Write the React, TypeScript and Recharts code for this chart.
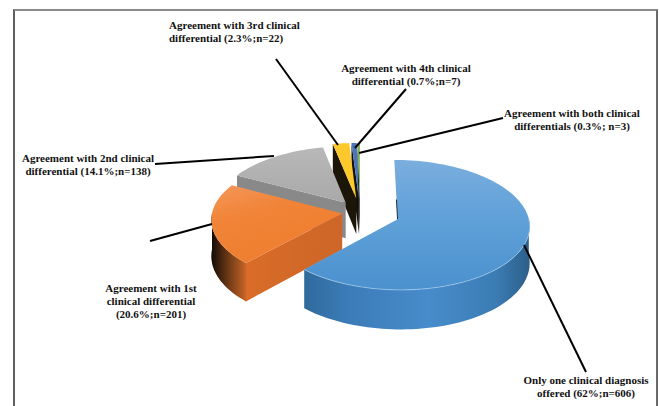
import { Pie, PieChart } from 'recharts'

// counts behind each slice, going counter-clockwise from twelve o'clock
const categories = [
  'Agreement with both clinical differentials',
  'Agreement with 4th clinical differential',
  'Agreement with 3rd clinical differential',
  'Agreement with 2nd clinical differential',
  'Agreement with 1st clinical differential',
  'Only one clinical diagnosis offered',
]
const counts = [3, 7, 22, 138, 201, 606]

const labelLines = [
  ['Agreement with both clinical', 'differentials (0.3%; n=3)'],
  ['Agreement with 4th clinical', 'differential (0.7%;n=7)'],
  ['Agreement with 3rd clinical', 'differential (2.3%;n=22)'],
  ['Agreement with 2nd clinical', 'differential (14.1%;n=138)'],
  ['Agreement with 1st', 'clinical differential', '(20.6%;n=201)'],
  ['Only one clinical diagnosis', 'offered (62%;n=606)'],
]

// where each caption sits and where its leader runs
const labelAnchors = [
  { x: 572, y: 117, anchor: 'middle' },
  { x: 406, y: 72, anchor: 'middle' },
  { x: 169, y: 29, anchor: 'start' },
  { x: 88, y: 162, anchor: 'middle' },
  { x: 151, y: 292, anchor: 'middle' },
  { x: 586, y: 384, anchor: 'middle' },
]
const leaders = [
  [503, 118, 359, 153],
  [406, 89, 355, 148],
  [276, 59, 338, 145],
  [155, 164, 274, 156],
  [150, 241, 212, 224],
  [586, 372, 524, 245],
]

const explode = [28, 28, 28, 24, 18, 40]
const topFills = ['#70ad47', '#4a74bc', '#fbc92b', 'url(#grayTop)', 'url(#orangeTop)', 'url(#blueTop)']
const cutFills = ['#14100a', '#14100a', '#1c1608', '#898989', 'url(#orangeCut)', '#2f6a9f']
const rimFills = ['#14100a', '#14100a', '#1c1608', '#898989', 'url(#orangeRim)', 'url(#blueRim)']

const WIDTH = 659
const HEIGHT = 406
const CX = 360
const CY = 212
const RADIUS = 130
const TILT = 0.49
const PERSPECTIVE = 0.088
const DEPTH = 36

const rad = (deg: number) => (deg * Math.PI) / 180

// flat pie coordinates -> screen, nearer points come out slightly bigger
function project(wx: number, wy: number, down = 0): [number, number] {
  const s = 1 + (PERSPECTIVE * wy) / RADIUS
  return [CX + wx * s, CY + wy * TILT * s + down * DEPTH * s]
}

function toPath(points: [number, number][]) {
  return 'M' + points.map(([x, y]) => `${x.toFixed(1)},${y.toFixed(1)}`).join('L') + 'Z'
}

function arcAngles(from: number, to: number) {
  const steps = Math.max(2, Math.ceil((to - from) / 2))
  const out: number[] = []
  for (let i = 0; i <= steps; i++) out.push(from + ((to - from) * i) / steps)
  return out
}

function Slice3D(props: any) {
  const { startAngle, endAngle, index } = props
  const mid = rad((startAngle + endAngle) / 2)
  const ox = explode[index] * Math.cos(mid)
  const oy = -explode[index] * Math.sin(mid)
  const rim = (deg: number, down = 0) =>
    project(ox + RADIUS * Math.cos(rad(deg)), oy - RADIUS * Math.sin(rad(deg)), down)

  const apex = project(ox, oy)
  const apexLow = project(ox, oy, 1)
  const top = toPath([apex, ...arcAngles(startAngle, endAngle).map((a) => rim(a))])

  // only the part of the outer wall that faces the viewer
  const wallFrom = Math.max(startAngle, 180)
  const wallTo = Math.min(endAngle, 360)
  const hasWall = wallTo > wallFrom
  const wallAngles = hasWall ? arcAngles(wallFrom, wallTo) : []
  const wall = hasWall
    ? toPath([...wallAngles.map((a) => rim(a)), ...[...wallAngles].reverse().map((a) => rim(a, 1))])
    : ''

  const cosEnd = Math.cos(rad(endAngle))
  const showCut = cosEnd < -0.01
  const cut = toPath([apex, rim(endAngle), rim(endAngle, 1), apexLow])
  const seamTop = rim(endAngle)

  return (
    <g>
      {showCut && <path d={cut} fill={cutFills[index]} />}
      {hasWall && <path d={wall} fill={rimFills[index]} />}
      <path d={top} fill={topFills[index]} />
      {hasWall && index === 5 && (
        <polyline
          points={wallAngles.map((a) => rim(a).join(',')).join(' ')}
          fill="none"
          stroke="#a9cbe9"
          strokeWidth={0.7}
        />
      )}
      {Math.abs(cosEnd) <= 0.01 && (
        <line
          x1={apex[0]}
          y1={apex[1]}
          x2={(apex[0] * 2 + seamTop[0]) / 3}
          y2={(apex[1] * 2 + seamTop[1]) / 3}
          stroke="#1d2c3a"
          strokeWidth={1}
        />
      )}
    </g>
  )
}

function Caption({ index }: any) {
  const a = labelAnchors[index]
  const [x1, y1, x2, y2] = leaders[index]
  return (
    <g>
      <line x1={x1} y1={y1} x2={x2} y2={y2} stroke="#000" strokeWidth={2} />
      {labelLines[index].map((t, i) => (
        <text
          key={t}
          x={a.x}
          y={a.y + i * 13}
          textAnchor={a.anchor}
          fontFamily="'Liberation Serif', serif"
          fontWeight="bold"
          fontSize={11}
          fill="#111"
        >
          {t}
        </text>
      ))}
    </g>
  )
}

export default function App() {
  const data = categories.map((name, i) => ({ name, value: counts[i] }))
  return (
    <div style={{ position: 'absolute', left: 0, top: 0, width: WIDTH, height: HEIGHT, background: '#fff', overflow: 'hidden' }}>
      <div
        style={{
          position: 'absolute',
          left: 13,
          top: 9,
          width: 641,
          height: 400,
          borderLeft: '2px solid #5f5f5f',
          borderTop: '2px solid #8a8a8a',
          borderRight: '2px solid #6a6a6a',
        }}
      />
      <div style={{ position: 'absolute', left: 0, top: 0 }}>
        <PieChart width={WIDTH} height={HEIGHT} margin={{ top: 0, right: 0, bottom: 0, left: 0 }}>
          <defs>
            <linearGradient id="blueTop" x1="0" y1="0" x2="0" y2="1">
              <stop offset="0" stopColor="#7aaede" />
              <stop offset="0.4" stopColor="#62a2d9" />
              <stop offset="1" stopColor="#4a91ce" />
            </linearGradient>
            <linearGradient id="blueRim" x1="0" y1="0" x2="1" y2="0">
              <stop offset="0" stopColor="#2f6a9c" />
              <stop offset="0.2" stopColor="#3c7cb8" />
              <stop offset="0.55" stopColor="#478ccb" />
              <stop offset="0.85" stopColor="#3b7cb4" />
              <stop offset="1" stopColor="#2c5f8a" />
            </linearGradient>
            <linearGradient id="orangeTop" x1="0" y1="0" x2="0.5" y2="1">
              <stop offset="0" stopColor="#f5975a" />
              <stop offset="0.4" stopColor="#f18438" />
              <stop offset="1" stopColor="#ee7d2e" />
            </linearGradient>
            <linearGradient id="orangeRim" x1="0" y1="0" x2="1" y2="0">
              <stop offset="0" stopColor="#130a04" />
              <stop offset="0.5" stopColor="#6e3a16" />
              <stop offset="1" stopColor="#c96526" />
            </linearGradient>
            <linearGradient id="orangeCut" x1="0" y1="0" x2="1" y2="0">
              <stop offset="0" stopColor="#d96c28" />
              <stop offset="1" stopColor="#cd6628" />
            </linearGradient>
            <linearGradient id="grayTop" x1="0" y1="0" x2="0" y2="1">
              <stop offset="0" stopColor="#b8b8b8" />
              <stop offset="1" stopColor="#a9a9a9" />
            </linearGradient>
          </defs>
          <Pie
            data={data}
            dataKey="value"
            cx={CX}
            cy={CY}
            outerRadius={RADIUS}
            startAngle={90}
            endAngle={450}
            stroke="none"
            isAnimationActive={false}
            shape={Slice3D}
            label={Caption}
            labelLine={false}
          />
        </PieChart>
      </div>
    </div>
  )
}
